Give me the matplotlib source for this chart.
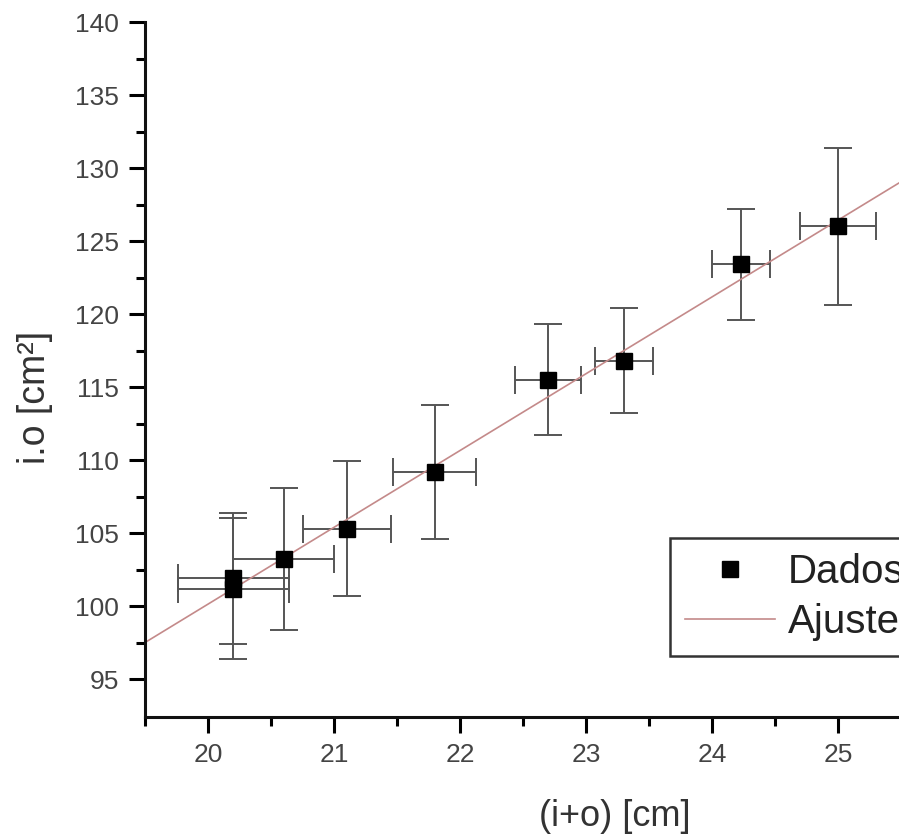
import matplotlib
matplotlib.use("Agg")
import matplotlib.pyplot as plt
import numpy as np

plt.rcParams['font.family'] = ['Liberation Sans', 'DejaVu Sans']

# dados experimentais
x = [20.2, 20.2, 20.6, 21.1, 21.8, 22.7, 23.3, 24.23, 25.0]
y = [101.9, 101.2, 103.2, 105.3, 109.2, 115.5, 116.8, 123.4, 126.0]
xerr = [0.44, 0.44, 0.40, 0.35, 0.33, 0.26, 0.23, 0.23, 0.30]
yerr = [4.5, 4.8, 4.85, 4.6, 4.6, 3.8, 3.6, 3.8, 5.4]

# ajuste linear
slope = 5.26
intercept = -5.07

fig = plt.figure(figsize=(8.99, 8.34), dpi=100)
ax = fig.add_axes([145 / 899, 117 / 834, (901 - 145) / 899, (717 - 22) / 834])

ax.errorbar(x, y, xerr=xerr, yerr=yerr, fmt='none', ecolor='#555555',
            elinewidth=1.4, capsize=10, capthick=1.4, zorder=2)
ax.plot(x, y, 's', color='black', markersize=11, label='Dados', zorder=3)
xf = np.array([19.5, 25.6])
ax.plot(xf, slope * xf + intercept, color='#c48a8a', linewidth=1.2,
        label='Ajuste', zorder=2.5)

ax.set_xlim(19.5, 25.5)
ax.set_ylim(92.4, 140)
ax.set_xticks([20, 21, 22, 23, 24, 25])
ax.set_xticks(np.arange(19.5, 25.6, 0.5), minor=True)
ax.set_yticks(np.arange(95, 141, 5))
ax.set_yticks(np.arange(95, 141, 2.5), minor=True)

for s in ['top', 'right']:
    ax.spines[s].set_visible(False)
for s in ['left', 'bottom']:
    ax.spines[s].set_linewidth(2.2)
    ax.spines[s].set_color('#111111')

ax.tick_params(which='major', direction='out', length=11.5, width=2.2,
               labelsize=19, labelcolor='#444444', pad=7)
ax.tick_params(which='minor', direction='out', length=6.5, width=2.2)

ax.set_xlabel('(i+o) [cm]', fontsize=26, color='#333333')
ax.set_ylabel('i.o [cm²]', fontsize=27, color='#333333')
ax.xaxis.set_label_coords(0.622, -0.118)
ax.yaxis.set_label_coords(-0.122, 0.46)

leg = ax.legend(loc='upper left', bbox_to_anchor=(670 / 899, 1 - 538 / 834),
                bbox_transform=fig.transFigure, borderaxespad=0,
                fontsize=29, frameon=True, fancybox=False, edgecolor='black',
                handlelength=2.23, borderpad=0.375, labelspacing=0.3,
                handletextpad=0.32, markerscale=1.1)
leg.get_frame().set_linewidth(1.8)
for t in leg.get_texts():
    t.set_color('#222222')

fig.savefig('out.png', dpi=100)
